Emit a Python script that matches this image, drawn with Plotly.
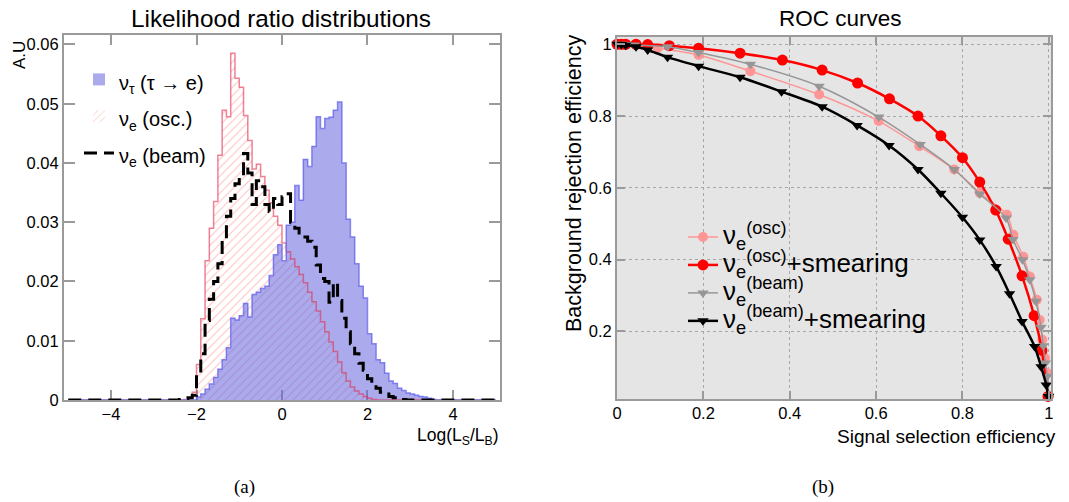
import numpy as np
import plotly.graph_objects as go

W, H = 1069, 502
FONT = "Liberation Sans"
SERIF = "Liberation Serif"

# ---------------- Left panel: likelihood-ratio histograms ----------------
hist_bin_width = 0.1
hist_x_min, hist_x_max = -5.0, 5.0

# nu_tau (tau -> e): non-empty bins, starting at left edge -2.0
nutau_first_edge = -2.0
nutau_values = [
    0.0005, 0.0010, 0.0018, 0.0027, 0.0038, 0.0052, 0.0068, 0.0088, 0.0138, 0.0135,
    0.0142, 0.0163, 0.0140, 0.0178, 0.0182, 0.0188, 0.0192, 0.0210, 0.0245, 0.0262,
    0.0235, 0.0295, 0.0300, 0.0362, 0.0337, 0.0406, 0.0394, 0.0428, 0.0478, 0.0458,
    0.0475, 0.0477, 0.0489, 0.0503, 0.0400, 0.0305, 0.0275, 0.0230, 0.0192, 0.0172,
    0.0112, 0.0095, 0.0068, 0.0063, 0.0045, 0.0032, 0.0028, 0.0020, 0.0016, 0.0012,
    0.0010, 0.0008, 0.0006, 0.0005, 0.0003, 0.0001,
]

# nu_e (osc.): non-empty bins, starting at left edge -2.3
nueosc_first_edge = -2.3
nueosc_values = [
    0.0001, 0.0004, 0.0013, 0.0060, 0.0137, 0.0235, 0.0290, 0.0335, 0.0413, 0.0489,
    0.0478, 0.0585, 0.0543, 0.0528, 0.0480, 0.0438, 0.0390, 0.0398, 0.0377, 0.0354,
    0.0333, 0.0310, 0.0295, 0.0265, 0.0250, 0.0238, 0.0225, 0.0212, 0.0198, 0.0182,
    0.0166, 0.0150, 0.0132, 0.0115, 0.0098, 0.0082, 0.0064, 0.0046, 0.0032, 0.0022,
    0.0015, 0.0010, 0.0006, 0.0003, 0.0001,
]

# nu_e (beam): non-empty bins, starting at left edge -2.4
nuebeam_first_edge = -2.4
nuebeam_values = [
    0.0001, 0.0002, 0.0004, 0.0008, 0.0044, 0.0078, 0.0134, 0.0170, 0.0200, 0.0230,
    0.0270, 0.0310, 0.0340, 0.0365, 0.0377, 0.0416, 0.0383, 0.0330, 0.0370, 0.0360,
    0.0330, 0.0318, 0.0340, 0.0330, 0.0343, 0.0348, 0.0300, 0.0290, 0.0282, 0.0275,
    0.0268, 0.0258, 0.0228, 0.0205, 0.0200, 0.0165, 0.0198, 0.0168, 0.0138, 0.0115,
    0.0095, 0.0078, 0.0062, 0.0050, 0.0036, 0.0025, 0.0020, 0.0013, 0.0010, 0.0006,
    0.0004, 0.0002, 0.0001,
]

hist_xticks = [-4, -2, 0, 2, 4]
hist_yticks = [0, 0.01, 0.02, 0.03, 0.04, 0.05, 0.06]
hist_yticklabels = ["0", "0.01", "0.02", "0.03", "0.04", "0.05", "0.06"]

# ---------------- Right panel: ROC curves ----------------
roc_osc_x = [0.0, 0.01, 0.02, 0.094, 0.189, 0.309, 0.468, 0.606, 0.700, 0.781, 0.840,
             0.903, 0.918, 0.941, 0.956, 0.972, 0.979, 0.985, 0.991, 0.996, 1.0]
roc_osc_y = [1.0, 1.0, 0.999, 0.989, 0.970, 0.925, 0.860, 0.786, 0.716, 0.651, 0.586,
             0.525, 0.469, 0.408, 0.353, 0.288, 0.232, 0.177, 0.126, 0.084, 0.02]

roc_osc_sm_x = [0.0, 0.01, 0.02, 0.044, 0.071, 0.121, 0.189, 0.285, 0.383, 0.475, 0.557,
                0.631, 0.697, 0.750, 0.800, 0.840, 0.877, 0.906, 0.938, 0.966, 0.984, 0.998]
roc_osc_sm_y = [1.0, 1.0, 1.0, 1.0, 0.999, 0.996, 0.989, 0.975, 0.956, 0.928, 0.892,
                0.848, 0.800, 0.745, 0.684, 0.616, 0.538, 0.457, 0.355, 0.244, 0.147, 0.019]

roc_beam_x = [0.0, 0.01, 0.02, 0.04, 0.117, 0.189, 0.309, 0.468, 0.606, 0.702, 0.781,
              0.840, 0.901, 0.917, 0.939, 0.956, 0.970, 0.982, 0.987, 0.992, 0.996, 1.0]
roc_beam_y = [1.0, 1.0, 0.999, 0.998, 0.993, 0.977, 0.944, 0.883, 0.797, 0.721, 0.651,
              0.583, 0.516, 0.456, 0.400, 0.344, 0.284, 0.212, 0.160, 0.112, 0.075, 0.02]

roc_beam_sm_x = [0.0, 0.01, 0.02, 0.044, 0.071, 0.117, 0.189, 0.285, 0.381, 0.475, 0.556,
                 0.630, 0.697, 0.750, 0.800, 0.840, 0.878, 0.909, 0.938, 0.967, 0.982,
                 0.994, 0.999]
roc_beam_sm_y = [1.0, 0.999, 0.997, 0.993, 0.984, 0.964, 0.939, 0.908, 0.868, 0.826, 0.774,
                 0.718, 0.651, 0.585, 0.518, 0.455, 0.381, 0.305, 0.228, 0.158, 0.102,
                 0.051, 0.019]

roc_xticks = [0, 0.2, 0.4, 0.6, 0.8, 1.0]
roc_xticklabels = ["0", "0.2", "0.4", "0.6", "0.8", "1"]
roc_yticks = [0.2, 0.4, 0.6, 0.8, 1.0]
roc_yticklabels = ["0.2", "0.4", "0.6", "0.8", "1"]


def full_hist(first_edge, values):
    n = int(round((hist_x_max - hist_x_min) / hist_bin_width))
    edges = np.round(hist_x_min + hist_bin_width * np.arange(n + 1), 3)
    counts = np.zeros(n)
    i0 = int(round((first_edge - hist_x_min) / hist_bin_width))
    counts[i0:i0 + len(values)] = values
    return edges, counts


def step_y(counts):
    return np.append(counts, counts[-1])


def centers(edges):
    return np.round(edges[:-1] + hist_bin_width / 2, 3)


LEG1 = '<span style="font-size:20px">{}</span>'
LEG2 = '<span style="font-size:26px">{}</span>'

fig = go.Figure()

# nu_e (osc.) : hatched red
ex, ec = full_hist(nueosc_first_edge, nueosc_values)
fig.add_trace(go.Bar(
    x=centers(ex), y=ec, width=hist_bin_width, xaxis="x", yaxis="y",
    marker=dict(color="rgba(0,0,0,0)", line=dict(width=0),
                pattern=dict(shape="/", fgcolor="rgba(255,90,90,0.8)", bgcolor="rgba(0,0,0,0)",
                             size=6, solidity=0.16, fillmode="overlay")),
    name=LEG1.format("ν<sub>e</sub> (osc.)"), legend="legend", legendrank=2,
    hoverinfo="skip",
))
# nu_tau : blue filled
tx, tc = full_hist(nutau_first_edge, nutau_values)
fig.add_trace(go.Bar(
    x=centers(tx), y=tc, width=hist_bin_width, xaxis="x", yaxis="y",
    marker=dict(color="rgba(100,100,220,0.55)", line=dict(width=0)),
    name=LEG1.format("ν<sub>τ</sub> (τ → e)"), legend="legend", legendrank=1,
    hoverinfo="skip",
))
# outlines
fig.add_trace(go.Scatter(
    x=ex, y=step_y(ec), xaxis="x", yaxis="y", mode="lines",
    line=dict(shape="hv", color="rgba(225,50,80,0.6)", width=1.5),
    showlegend=False, cliponaxis=False,
))
fig.add_trace(go.Scatter(
    x=tx, y=step_y(tc), xaxis="x", yaxis="y", mode="lines",
    line=dict(shape="hv", color="rgba(110,110,235,0.85)", width=1.5),
    showlegend=False, cliponaxis=False,
))
# nu_e (beam) : black dashed
bx, bc = full_hist(nuebeam_first_edge, nuebeam_values)
fig.add_trace(go.Scatter(
    x=bx, y=step_y(bc), xaxis="x", yaxis="y", mode="lines",
    line=dict(shape="hv", color="black", width=3, dash="13px,7px"),
    name=LEG1.format("ν<sub>e</sub> (beam)"), legend="legend", legendrank=3, cliponaxis=False,
))

roc_specs = [
    (roc_osc_x, roc_osc_y, "rgb(255,150,150)", "circle", 10, 1.5, "ν<sub>e</sub><sup>(osc)</sup>"),
    (roc_osc_sm_x, roc_osc_sm_y, "rgb(255,0,0)", "circle", 11, 2.5, "ν<sub>e</sub><sup>(osc)</sup>+smearing"),
    (roc_beam_x, roc_beam_y, "rgb(150,150,150)", "triangle-down", 10, 1.5, "ν<sub>e</sub><sup>(beam)</sup>"),
    (roc_beam_sm_x, roc_beam_sm_y, "black", "triangle-down", 10, 2.5, "ν<sub>e</sub><sup>(beam)</sup>+smearing"),
]
for rx, ry, col, sym, msz, lw, nm in roc_specs:
    fig.add_trace(go.Scatter(
        x=rx, y=ry, xaxis="x2", yaxis="y2", mode="lines+markers",
        line=dict(color=col, width=lw, shape="spline", smoothing=0.8),
        marker=dict(color=col, symbol=sym, size=msz, line=dict(width=0)),
        name=LEG2.format(nm), legend="legend2", cliponaxis=False,
    ))

FRAME = "#9a9a9a"
tick_font = dict(family=FONT, size=16.5, color="black")

common_axis = dict(
    showline=True, linecolor=FRAME, linewidth=2, mirror="ticks",
    ticks="inside", tickcolor=FRAME, tickwidth=1.5, zeroline=False,
    tickfont=tick_font, automargin=False,
)

fig.update_layout(
    width=W, height=H,
    margin=dict(l=0, r=0, t=0, b=0),
    paper_bgcolor="white", plot_bgcolor="rgba(0,0,0,0)",
    showlegend=True,
    barmode="overlay", bargap=0, bargroupgap=0,
    xaxis=dict(domain=[64 / W, 500 / W], range=[-5.1, 5.1], anchor="y",
               tickvals=hist_xticks, ticklen=10, showgrid=False, layer="below traces",
               ticklabelstandoff=-2, **common_axis),
    yaxis=dict(domain=[102 / H, 467 / H], range=[0, 0.0616], anchor="x",
               tickvals=hist_yticks, ticktext=hist_yticklabels, ticklen=11, showgrid=False,
               layer="below traces", **common_axis),
    xaxis2=dict(domain=[617 / W, 1051 / W], range=[0, 1.005], anchor="y2",
                tickvals=roc_xticks, ticktext=roc_xticklabels, ticklen=8,
                showgrid=True, gridcolor="#a8a8a8", griddash="dot", gridwidth=1,
                ticklabelstandoff=-2, **common_axis),
    yaxis2=dict(domain=[(H - 399.3) / H, (H - 36.7) / H], range=[0.011, 1.021], anchor="x2",
                tickvals=roc_yticks, ticktext=roc_yticklabels, ticklen=8,
                showgrid=True, gridcolor="#a8a8a8", griddash="dot", gridwidth=1,
                **common_axis),
    legend=dict(x=79 / W, y=1 - 56 / H, xanchor="left", yanchor="top",
                font=dict(family=FONT, size=26, color="black"),
                bgcolor="rgba(0,0,0,0)", borderwidth=0, itemwidth=30),
    legend2=dict(x=683 / W, y=1 - 218 / H, xanchor="left", yanchor="top",
                 font=dict(family=FONT, size=19.2, color="black"),
                 bgcolor="rgba(0,0,0,0)", borderwidth=0, itemwidth=30),
    shapes=[dict(type="rect", xref="x2 domain", yref="y2 domain", x0=0, x1=1, y0=0, y1=1,
                 fillcolor="#e5e5e5", line=dict(width=0), layer="below")],
)


def ann(text, x, y, size, family=FONT, angle=0, xanchor="center", yanchor="middle"):
    fig.add_annotation(text=text, x=x / W, y=1 - y / H, xref="paper", yref="paper",
                       showarrow=False, textangle=angle, xanchor=xanchor, yanchor=yanchor,
                       font=dict(family=family, size=size, color="black"))


ann("Likelihood ratio distributions", 281, 19, 24.3)
ann("ROC curves", 840, 19, 22.5)
ann("A.U", 19, 55, 17, angle=-90)
ann("Log(L<sub>S</sub>/L<sub>B</sub>)", 501, 436, 17.5, xanchor="right")
ann("Background rejection efficiency", 574, 184, 21.5, angle=-90)
ann("Signal selection efficiency", 1058, 436, 19.1, xanchor="right")
ann("(a)", 244, 487, 19, family=SERIF)
ann("(b)", 823, 487, 19, family=SERIF)

fig.write_html("out.html", config={"displayModeBar": False},
               post_script="document.body.style.margin='0px';")
